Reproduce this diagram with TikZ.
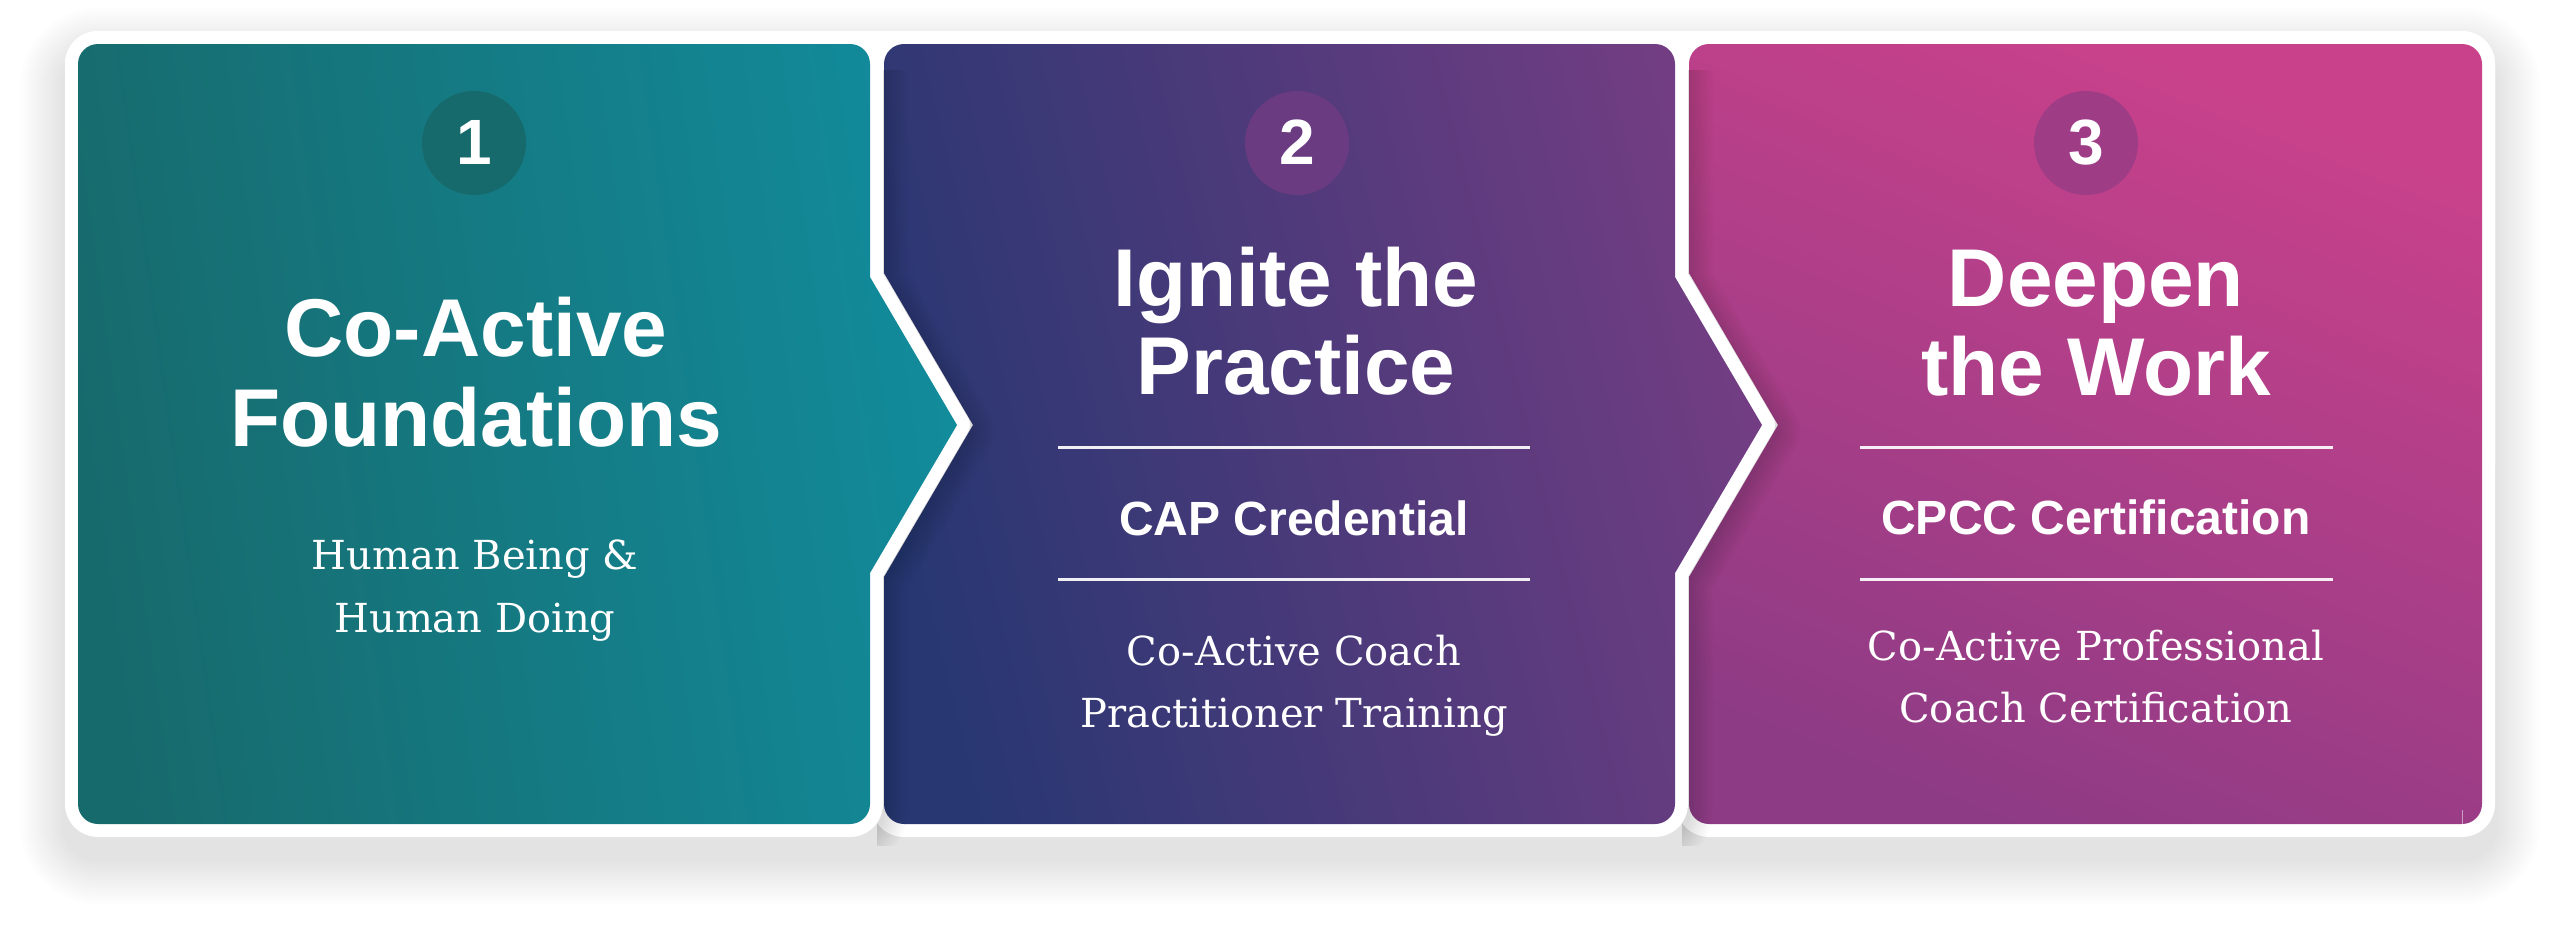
\documentclass[tikz,border=0pt]{standalone}
\usepackage{fontspec}
\setmainfont{Liberation Sans}
\newfontfamily\subserif{DejaVu Serif}
\definecolor{pA1}{HTML}{176A6C}
\definecolor{pA2}{HTML}{128B9B}
\definecolor{pB1}{HTML}{283772}
\definecolor{pB2}{HTML}{733D83}
\definecolor{pC1}{HTML}{8E3B85}
\definecolor{pC2}{HTML}{CA418B}
\definecolor{bA}{HTML}{176A6B}
\definecolor{bB}{HTML}{6A3B80}
\definecolor{bC}{HTML}{9E3C86}
\def\pathA{(78,64) arc(180:270:20) -- (850,44) arc(270:360:20) -- (870,277) -- (957,425) -- (870,573) -- (870,804) arc(0:90:20) -- (98,824) arc(90:180:20) -- cycle}
\def\pathB{(884,64) arc(180:270:20) -- (1655,44) arc(270:360:20) -- (1675,277) -- (1762,425) -- (1675,573) -- (1675,804) arc(0:90:20) -- (904,824) arc(90:180:20) -- (884,577) -- (973,425) -- (884,273) -- cycle}
\def\pathC{(1689,64) arc(180:270:20) -- (2462,44) arc(270:360:20) -- (2482,804) arc(0:90:20) -- (1709,824) arc(90:180:20) -- (1689,577) -- (1778,425) -- (1689,273) -- cycle}
\tikzset{
  outershadow/.style={fill=black, opacity=0.0095},
  localshadow/.style={draw=black, opacity=0.014, line join=round},
  cardstroke/.style={draw=white, line width=26pt, line join=round},
  badgedisc/.style={circle, minimum size=104pt, inner sep=0pt, draw=none},
  numtext/.style={anchor=base, inner sep=0pt, text=white, font=\fontsize{64}{70}\selectfont\bfseries},
  titletext/.style={anchor=base, inner sep=0pt, text=white, font=\fontsize{82}{90}\selectfont\bfseries},
  credtext/.style={anchor=base, inner sep=0pt, text=white, font=\fontsize{48}{54}\selectfont\bfseries},
  subtext/.style={anchor=base, inner sep=0pt, text=white, font=\fontsize{40}{48}\selectfont\subserif},
  divider/.style={draw=white, opacity=0.92, line width=3pt}
}
\begin{document}
\begin{tikzpicture}[x=1pt,y=-1pt]
\useasboundingbox (0,0) rectangle (2560,937);
\fill[white] (0,0) rectangle (2560,937);
% outer drop shadow
\foreach \k in {1,...,14}{\pgfmathsetmacro\e{3.2*\k}\pgfmathsetmacro\rr{33+\e}
  \fill[outershadow, rounded corners=\rr pt] (65-\e,31-\e+22) rectangle (2495+\e,837+\e+22);}
\fill[white, rounded corners=33pt] (65,31) rectangle (2495,500);
% card 3
\draw[cardstroke] \pathC;
\shade[top color=pC2, bottom color=pC1, shading angle=-22] \pathC;
% card 2 (shadow cast on card 3)
\begin{scope}
\clip (1682,70) rectangle (2510,845);
\foreach \k in {1,...,9}{\pgfmathsetmacro\lw{26+5.5*\k}\draw[localshadow, line width=\lw pt, shift={(0,6)}] \pathB;}
\end{scope}
\draw[cardstroke] \pathB;
\shade[top color=pB2, bottom color=pB1, shading angle=-76] \pathB;
% card 1 (shadow cast on card 2)
\begin{scope}
\clip (877,70) rectangle (1700,845);
\foreach \k in {1,...,9}{\pgfmathsetmacro\lw{26+5.5*\k}\draw[localshadow, line width=\lw pt, shift={(0,6)}] \pathA;}
\end{scope}
\draw[cardstroke] \pathA;
\shade[top color=pA2, bottom color=pA1, shading angle=-82] \pathA;
% small artefact line
\draw[white, opacity=0.5, line width=1pt] (2462,810) -- (2462,824);
% badges
\node[badgedisc, fill=bA] (badge1) at (474,143) {};
\node[badgedisc, fill=bB] (badge2) at (1297,143) {};
\node[badgedisc, fill=bC] (badge3) at (2086,143) {};
\node[numtext] (num1) at (474,164) {1};
\node[numtext] (num2) at (1297,164) {2};
\node[numtext] (num3) at (2086,164) {3};
% panel 1 text
\node[titletext] (t1a) at (476,356) {Co-Active};
\node[titletext] (t1b) at (476,446) {Foundations};
\node[subtext] (s1a) at (475,569) {Human Being \&};
\node[subtext] (s1b) at (475,632) {Human Doing};
% panel 2 text
\node[titletext] (t2a) at (1296,306) {Ignite the};
\node[titletext] (t2b) at (1296,394) {Practice};
\coordinate (d2a) at (1058,447); \coordinate (d2b) at (1530,447);
\coordinate (d2c) at (1058,579); \coordinate (d2d) at (1530,579);
\draw[divider] (d2a) -- (d2b);
\draw[divider] (d2c) -- (d2d);
\node[credtext] (c2) at (1294,535) {CAP Credential};
\node[subtext] (s2a) at (1294,665) {Co-Active Coach};
\node[subtext] (s2b) at (1294,727) {Practitioner Training};
% panel 3 text
\node[titletext] (t3a) at (2096,306) {Deepen};
\node[titletext] (t3b) at (2096,395) {the Work};
\coordinate (d3a) at (1860,447); \coordinate (d3b) at (2333,447);
\coordinate (d3c) at (1860,579); \coordinate (d3d) at (2333,579);
\draw[divider] (d3a) -- (d3b);
\draw[divider] (d3c) -- (d3d);
\node[credtext] (c3) at (2096,534) {CPCC Certification};
\node[subtext] (s3a) at (2096,660) {Co-Active Professional};
\node[subtext] (s3b) at (2096,722) {Coach Certification};
\end{tikzpicture}
\end{document}
